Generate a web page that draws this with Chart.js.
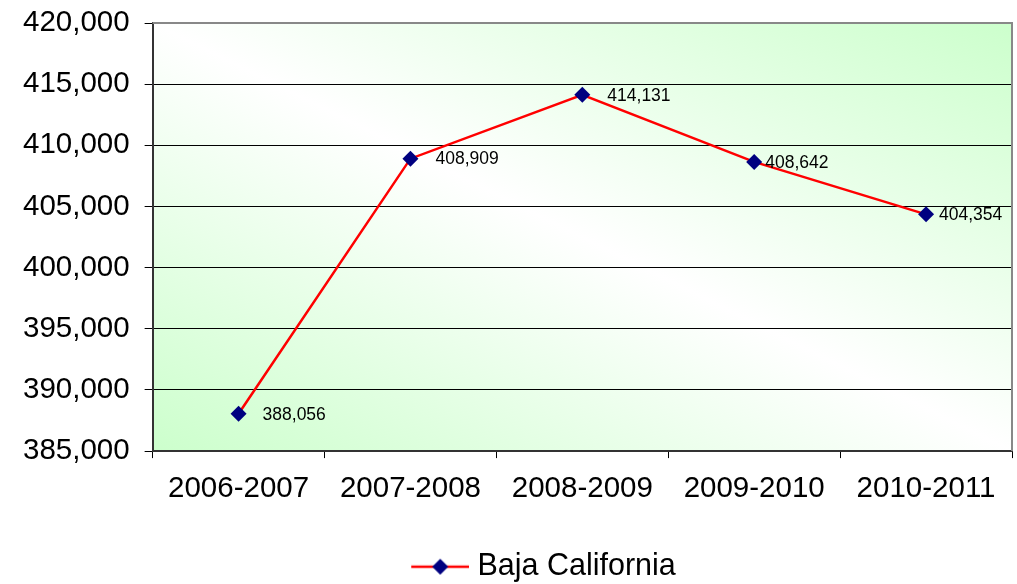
<!DOCTYPE html>
<html><head><meta charset="utf-8">
<script src="https://cdn.jsdelivr.net/npm/chart.js@4.4.0/dist/chart.umd.min.js"></script>
<style>html,body{margin:0;padding:0;background:#fff}#wrap{width:1017px;height:584px}</style>
</head><body><div id="wrap"><canvas id="c" width="1017" height="584"></canvas></div>
<script>
const categories = ["2006-2007","2007-2008","2008-2009","2009-2010","2010-2011"];
const values = [388056, 408909, 414131, 408642, 404354];
const seriesName = "Baja California";
const yMin = 385000, yMax = 420000, yStep = 5000;

const FONT = "'Liberation Sans', Arial, sans-serif";

// legend swatch: red line with navy diamond (transparent margin on the left)
const SW_W = 132, SW_LINE = 58;
const sw = document.createElement('canvas');
sw.width = SW_W; sw.height = 20;
(function(){
  const g = sw.getContext('2d');
  const x0 = SW_W - SW_LINE, cx = x0 + SW_LINE/2;
  g.strokeStyle = '#ff0000'; g.lineWidth = 2.5;
  g.beginPath(); g.moveTo(x0,10); g.lineTo(SW_W,10); g.stroke();
  g.fillStyle = '#000080';
  g.beginPath(); g.moveTo(cx,2); g.lineTo(cx+8,10); g.lineTo(cx,18); g.lineTo(cx-8,10); g.closePath(); g.fill();
})();

const bgPlugin = {
  id: 'bg',
  beforeDraw(chart){
    const {ctx, chartArea:a} = chart;
    ctx.save();
    ctx.translate(a.left, a.top);
    ctx.scale(a.right-a.left, a.bottom-a.top);
    const g = ctx.createLinearGradient(0, 1, 1, 0);
    g.addColorStop(0, '#ccffcc');
    g.addColorStop(0.5, '#ffffff');
    g.addColorStop(1, '#ccffcc');
    ctx.fillStyle = g;
    ctx.fillRect(0, 0, 1, 1);
    ctx.restore();
  },
  afterDraw(chart){
    const {ctx, chartArea:a} = chart;
    ctx.save();
    ctx.strokeStyle = '#888888'; ctx.lineWidth = 2;
    ctx.beginPath(); ctx.moveTo(a.left, a.top); ctx.lineTo(a.right, a.top); ctx.lineTo(a.right, a.bottom); ctx.stroke();
    ctx.restore();
  }
};

const labelPlugin = {
  id: 'vals',
  afterDatasetsDraw(chart){
    const {ctx} = chart;
    const meta = chart.getDatasetMeta(0);
    const gap = [24, 25, 25, 11, 13];
    ctx.save();
    ctx.font = "17.5px " + FONT;
    ctx.fillStyle = '#000';
    ctx.textBaseline = 'middle';
    ctx.textAlign = 'left';
    meta.data.forEach((p,i)=>{
      ctx.fillText(values[i].toLocaleString('en-US'), p.x + gap[i], p.y + 1);
    });
    ctx.restore();
  }
};

new Chart(document.getElementById('c'), {
  type: 'line',
  data: {
    labels: categories,
    datasets: [{
      label: seriesName,
      data: values,
      borderColor: '#ff0000',
      borderWidth: 2.5,
      backgroundColor: '#000080',
      pointBackgroundColor: '#000080',
      pointBorderColor: '#000080',
      pointStyle: 'rectRot',
      pointRadius: 8,
      pointBorderWidth: 0,
      tension: 0,
      fill: false,
      clip: false
    }]
  },
  options: {
    responsive: false,
    animation: false,
    layout: {autoPadding: false, padding: {top: 23, right: 5, left: 8, bottom: -8}},
    plugins: {
      tooltip: {enabled: false},
      legend: {
        position: 'bottom',
        labels: {
          usePointStyle: true,
          pointStyle: sw,
          pointStyleWidth: 118,
          color: '#000',
          font: {family: FONT, size: 30.5},
          padding: 2,
          generateLabels(chart){
            return [{text: seriesName, pointStyle: sw, fillStyle:'#000080', strokeStyle:'#ff0000', lineWidth:0, datasetIndex:0, hidden:false}];
          }
        }
      }
    },
    scales: {
      x: {
        offset: true,
        grid: {offset: true, drawOnChartArea: false, drawTicks: true, tickLength: 7, color: '#000', lineWidth: 1},
        border: {color: '#333', width: 2},
        ticks: {color: '#000', font: {family: FONT, size: 29.5}, padding: 13, maxRotation: 0},
        afterFit(scale){ scale.height += 30; scale.paddingLeft = 0; scale.paddingRight = 0; }
      },
      y: {
        min: yMin, max: yMax,
        grid: {color: '#000', lineWidth: 1, tickLength: 8},
        border: {color: '#333', width: 2},
        ticks: {
          stepSize: yStep, color: '#000', font: {family: FONT, size: 29.5}, padding: 15,
          callback: v => v.toLocaleString('en-US')
        },
        afterFit(scale){ scale.paddingTop = 0; scale.paddingBottom = 0; }
      }
    }
  },
  plugins: [bgPlugin, labelPlugin]
});
</script></body></html>
